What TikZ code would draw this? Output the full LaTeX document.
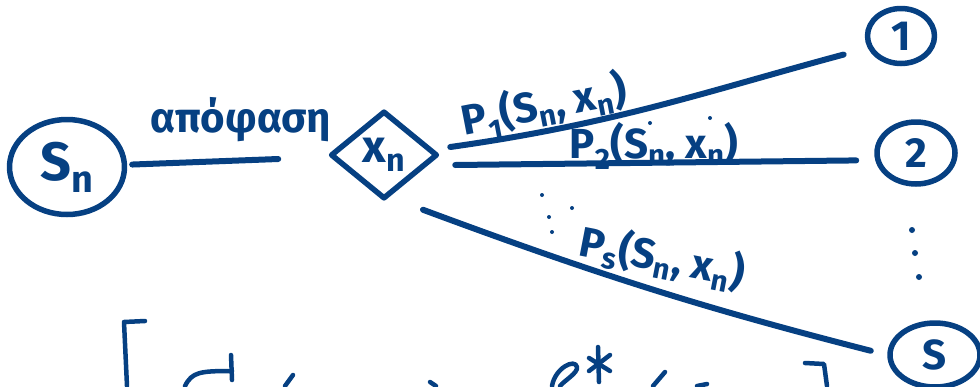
\documentclass[tikz,border=0pt]{standalone}
\usepackage{fontspec}
\setmainfont{Fira Sans}
\usetikzlibrary{shapes.geometric}
\definecolor{inkblue}{RGB}{6,64,130}

\begin{document}
\begin{tikzpicture}[x=1pt, y=1pt, inkblue, line cap=round, line join=round,
  ink/.style={draw=inkblue, line width=6pt},
  thinink/.style={draw=inkblue, line width=4.5pt},
  statebox/.style={ellipse, draw=inkblue, line width=5.5pt, inner sep=0pt},
  choicebox/.style={diamond, draw=inkblue, line width=5.5pt, inner sep=0pt},
  hand/.style={text=inkblue, font=\fontsize{42}{46}\selectfont\bfseries, inner sep=0pt}]

  \useasboundingbox (0,0) rectangle (980,-386);

  % -- State and decision --
  \node[statebox, minimum width=115pt, minimum height=95pt,
        font=\fontsize{54}{58}\selectfont\bfseries] (sn) at (67,-167) {S\textsubscript{n}};
  \node[choicebox, hand, draw, minimum width=107pt, minimum height=88pt,
        font=\fontsize{46}{50}\selectfont\bfseries] (xn) at (384,-155) {x\textsubscript{n}};
  \node[hand, anchor=base] (word) at (241,-132) {απόφαση};

  % -- Next states --
  \node[statebox, hand, draw, minimum width=67pt, minimum height=55pt] (one) at (901,-36) {1};
  \node[statebox, hand, draw, minimum width=78pt, minimum height=62pt] (two) at (916,-153) {2};
  \node[statebox, hand, draw, minimum width=90pt, minimum height=64pt] (ess) at (935,-355) {S};

  % -- Connectors --
  \draw[ink, shorten <=5pt, shorten >=52pt] (sn) -- (xn);
  \draw[ink, shorten >=25pt] ([shift={(10,8)}]xn.east) to[out=8, in=195] (one.200);
  \draw[ink, shorten >=19pt] ([shift={(15,-10)}]xn.east) -- (two.190);
  \draw[ink, shorten >=17pt] ([shift={(39,-8)}]xn.south) to[bend right=3] (ess.west);

  % -- Transition probabilities --
  \node[hand, rotate=11] (lab1) at (544,-107) {P\textsubscript{1}(S\textsubscript{n}, x\textsubscript{n})};
  \node[hand] (lab2) at (654,-146) {P\textsubscript{2}(S\textsubscript{n}, x\textsubscript{n})};
  \node[hand, rotate=-11] (labs) at (662,-258) {P\textsubscript{s}(S\textsubscript{n}, x\textsubscript{n})};

  % -- Dots --
  \foreach \px/\py in {542/195, 572/208, 549/217, 552/232, 650/123, 710/118}
    \fill (\px,-\py) circle (2pt);
  \foreach \px/\py in {912/230, 915/253, 919/277}
    \fill (\px,-\py) circle (3pt);

  % -- Cut-off line at the bottom --
  \draw[thinink] (145,-321) -- (124,-322) -- (127,-386);
  \draw[thinink] (231,-355) -- (232,-380);
  \draw[thinink] (185,-386) .. controls (192,-372) and (200,-371) .. (232,-371);
  \draw[thinink] (293,-375) -- (285,-386);
  \draw[thinink] (430,-382) -- (436,-386);
  \draw[thinink] (552,-386) .. controls (555,-368) and (575,-358) .. (577,-367)
    .. controls (578,-373) and (565,-380) .. (560,-386);
  \draw[thinink] (598,-347) -- (599,-382);
  \draw[thinink] (589,-358) -- (610,-371);
  \draw[thinink] (589,-371) -- (610,-355);
  \draw[thinink] (665,-372) -- (653,-386);
  \draw[thinink] (697,-386) -- (707,-384);
  \draw[thinink] (805,-363) -- (824,-364) -- (827,-386);

\end{tikzpicture}
\end{document}
